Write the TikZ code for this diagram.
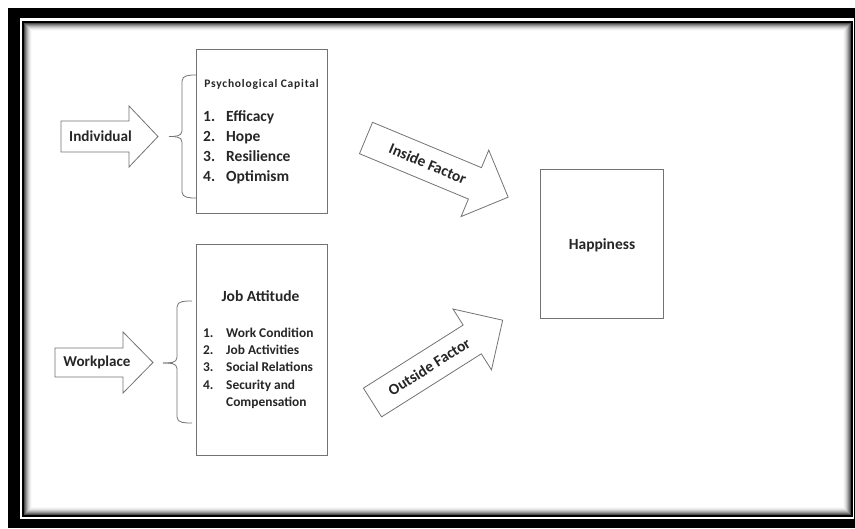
\documentclass[tikz,border=0pt]{standalone}
\usepackage{fontspec}
\setmainfont{Carlito}
\begin{document}
\begin{tikzpicture}[x=1pt,y=1pt,
  shp/.style={draw=black!55, line width=0.8pt, fill=white},
  boxn/.style={shp, inner sep=0pt, anchor=north west},
  brc/.style={draw=black!55, line width=0.8pt},
  fs/.style={font=\bfseries\fontsize{#1}{#1}\selectfont},
  lbl/.style={fs=13.5, text=black!85, inner sep=0pt},
  itm/.style={text=black!85, inner sep=0pt, anchor=west, text height=0.72em, text depth=0.2em}
]
\useasboundingbox (0,0) rectangle (855,-529);
\fill[white] (0,0) rectangle (855,-529);
% frame
\fill[black] (8,-8) rectangle (855,-528);
\fill[white] (20,-18) rectangle (854,-519);
\draw[line width=2pt] (23,-22) rectangle (852,-516);
\foreach \i/\c in {1/70,2/55,3/42,4/30,5/20,6/12,7/6,8/2}
  \draw[black!\c, line width=1pt] (23.5+\i,-22.5-\i) rectangle (851.5-\i,-515.5+\i);
% boxes
\node[boxn, minimum width=131pt, minimum height=164pt] (psy) at (196,-49) {};
\node[boxn, minimum width=131pt, minimum height=211pt] (job) at (196,-244) {};
\node[boxn, minimum width=123pt, minimum height=149pt] (hap) at (540,-169) {};
\node[lbl, fs=15.5] (hapt) at (602,-245) {Happiness};
% psych text
\node[lbl, fs=11.5] (psyt) at (261.5,-84) {\addfontfeature{LetterSpace=7}Psychological Capital};
\foreach \n/\t/\y in {1/Efficacy/119,2/Hope/139,3/Resilience/159,4/Optimism/179}{
  \node[itm, fs=15.5] (pn\n) at (203,-\y) {\n.};
  \node[itm, fs=15.5] (pt\n) at (226,-\y) {\t};
}
% job text
\node[lbl, fs=15.5] (jobt) at (260.5,-296) {Job Attitude};
\foreach \n/\t/\y in {1/Work Condition/335,2/Job Activities/352,3/Social Relations/369,4/Security and/387}{
  \node[itm, fs=13.4] (jn\n) at (203,-\y) {\n.};
  \node[itm, fs=13.4] (jt\n) at (226,-\y) {\t};
}
\node[itm, fs=13.4] (jt5) at (226,-404) {Compensation};
% left arrows
\draw[shp] (61,-121) -- (129,-121) -- (129,-106) -- (158,-136.5) -- (129,-167) -- (129,-152) -- (61,-152) -- cycle;
\node[lbl, fs=15.2] (ind) at (100.5,-136.5) {Individual};
\draw[shp] (55,-348) -- (123,-348) -- (123,-332) -- (153,-362.5) -- (123,-393) -- (123,-377) -- (55,-377) -- cycle;
\node[lbl, fs=15.1] (wrk) at (97,-362.5) {Workplace};
% braces
\coordinate (b1t) at (196,-75); \coordinate (b1m) at (169,-136.5); \coordinate (b1b) at (196,-198);
\draw[brc] (b1t) to[out=180,in=90] (182,-81) -- (182,-131) to[out=-90,in=0] (b1m);
\draw[brc] (b1m) to[out=0,in=90] (182,-142) -- (182,-192) to[out=-90,in=180] (b1b);
\coordinate (b2t) at (192,-301); \coordinate (b2m) at (163,-363); \coordinate (b2b) at (192,-423);
\draw[brc] (b2t) to[out=180,in=90] (177,-307) -- (177,-357.5) to[out=-90,in=0] (b2m);
\draw[brc] (b2m) to[out=0,in=90] (177,-368.5) -- (177,-417) to[out=-90,in=180] (b2b);
% diagonal arrows
\begin{scope}[shift={(366,-138)}, rotate=-22.6]
  \draw[shp] (0,17) -- (118,17) -- (118,36) -- (154,0) -- (118,-36) -- (118,-17) -- (0,-17) -- cycle;
  \node[lbl, fs=15.5, transform shape] (ins) at (67,0) {Inside Factor};
\end{scope}
\begin{scope}[shift={(372.5,-402.5)}, rotate=32.3]
  \draw[shp] (0,17) -- (118,17) -- (118,36) -- (154,0) -- (118,-36) -- (118,-17) -- (0,-17) -- cycle;
  \node[lbl, fs=15.5, transform shape] (out) at (67,0) {Outside Factor};
\end{scope}
\end{tikzpicture}
\end{document}
